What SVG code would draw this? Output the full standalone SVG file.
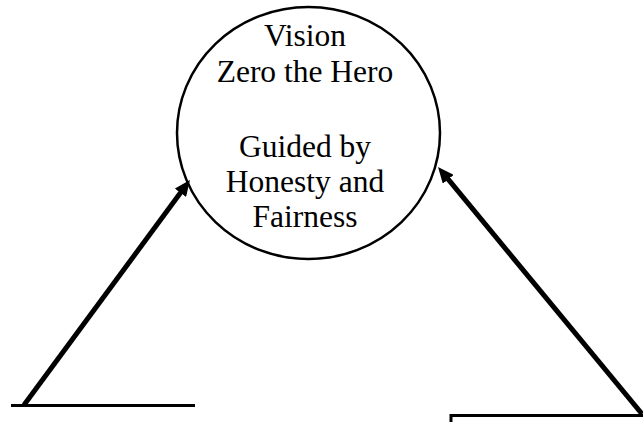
<svg xmlns="http://www.w3.org/2000/svg" width="643" height="422" viewBox="0 0 643 422">
<defs>
<style>
.lbl{font-family:"Liberation Serif","Times New Roman",serif;font-size:31.5px;fill:#000;text-anchor:middle}
.conn{stroke:#000;stroke-width:5;fill:none}
.edge{stroke:#000;stroke-width:3;fill:none}
</style>
<marker id="ah" markerUnits="userSpaceOnUse" markerWidth="16" markerHeight="14" refX="6" refY="7" orient="auto">
<path d="M0,0 L16,7 L0,14 z" fill="#000"/>
</marker>
</defs>
<rect width="643" height="422" fill="#fff"/>
<g id="vision">
<ellipse cx="308.5" cy="133" rx="131.5" ry="126" fill="none" stroke="#000" stroke-width="2.5"/>
<text class="lbl" x="305" y="46">Vision</text>
<text class="lbl" x="305" y="82">Zero the Hero</text>
<text class="lbl" x="305" y="157">Guided by</text>
<text class="lbl" x="305" y="192">Honesty and</text>
<text class="lbl" x="305" y="227">Fairness</text>
</g>
<g id="left-base">
<line class="edge" x1="11" y1="405.5" x2="195" y2="405.5"/>
</g>
<g id="right-base">
<polyline class="edge" points="451,423 451,415.5 643,415.5"/>
</g>
<g id="connectors">
<line class="conn" x1="24" y1="405" x2="184" y2="188" marker-end="url(#ah)"/>
<line class="conn" x1="642" y1="414" x2="444.4" y2="174.7" marker-end="url(#ah)"/>
</g>
</svg>
